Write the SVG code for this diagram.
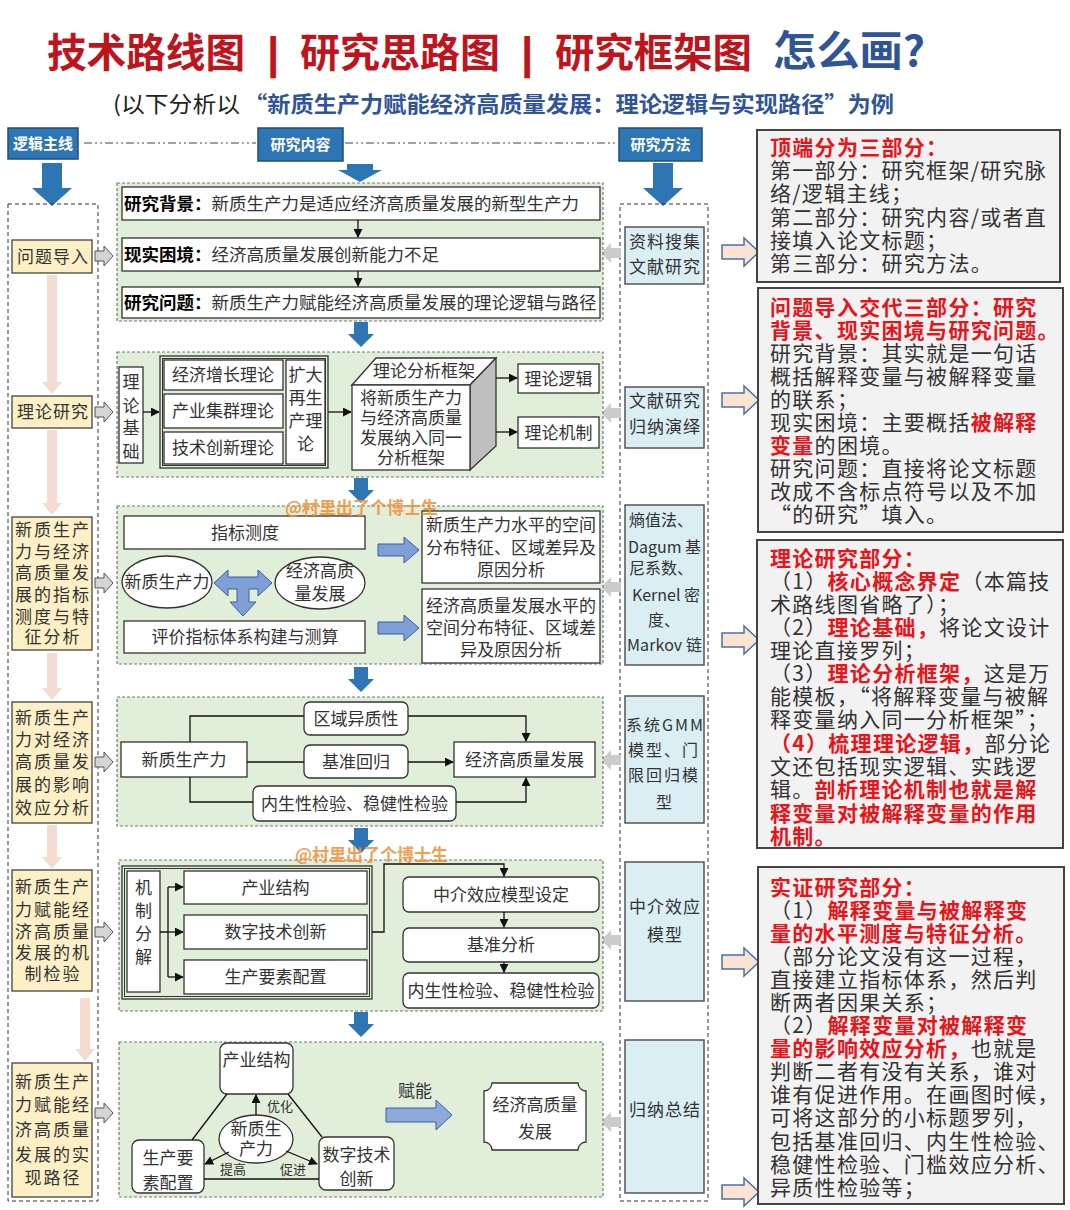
<svg xmlns="http://www.w3.org/2000/svg" width="1070" height="1210" viewBox="0 0 1070 1210">
<defs>
<style>
text{font-family:"Noto Sans CJK SC","Noto Sans",sans-serif;}
.t{font-size:17px;fill:#333;text-anchor:middle;}
.tl{font-size:17.5px;fill:#333;}
.lb{fill:#fdf0c6;stroke:#444;stroke-width:1.3;}
.lt{font-size:17px;fill:#333;text-anchor:middle;letter-spacing:2px;}
.pn{fill:#e1eed9;stroke:#777;stroke-width:1.2;stroke-dasharray:3 2;}
.wb{fill:#fff;stroke:#333;stroke-width:1.3;}
.mb{fill:#daeef3;stroke:#555;stroke-width:1.5;}
.mt{font-size:17px;fill:#333;text-anchor:middle;letter-spacing:1px;}
.ms{font-size:16px;fill:#333;}
.nb{fill:#f2f2f2;stroke:#444;stroke-width:2;}
.nt{font-size:21px;fill:#333;letter-spacing:1.3px;}
.r{fill:#e8141a;font-weight:bold;}
.hb{fill:#2e75b6;stroke:#1f4e79;stroke-width:1.5;}
.ht{font-size:15px;font-weight:bold;fill:#fff;text-anchor:middle;}
.ba{fill:#2e75b6;}
.pa{fill:#f4ddd0;}
.ga{fill:#d4d4d4;stroke:#555;stroke-width:1;}
.gl{fill:#cbcbcb;}
.oa{fill:#fbe3d3;stroke:#4a6fb5;stroke-width:1.5;}
.la{fill:#7f9fd6;stroke:#3a5ea8;stroke-width:1;}
.cn{fill:none;stroke:#111;stroke-width:1.3;}
.ca{fill:none;stroke:#111;stroke-width:1.3;marker-end:url(#ah);}
.col{fill:none;stroke:#333;stroke-width:1;stroke-dasharray:4 3;}
.dd{fill:none;stroke:#444;stroke-width:1.2;stroke-dasharray:8 3 2 3 2 3;}
.wm{font-size:17px;font-weight:bold;fill:#f39237;fill-opacity:0.9;}
.sm{font-size:13px;fill:#333;text-anchor:middle;}
</style>
<marker id="ah" viewBox="0 0 10 10" refX="9" refY="5" markerWidth="9" markerHeight="9" markerUnits="userSpaceOnUse" orient="auto"><path d="M0,0 L10,5 L0,10 Z" fill="#111"/></marker>
</defs>
<rect x="0" y="0" width="1070" height="1210" fill="#ffffff"/>

<g id="title">
<text x="47" y="67" font-size="40" font-weight="bold" fill="#c0141c" textLength="198" lengthAdjust="spacingAndGlyphs">技术路线图</text>
<text x="267" y="68" font-size="44" font-weight="bold" fill="#c0141c" style="font-family:'Liberation Sans',sans-serif">|</text>
<text x="300" y="67" font-size="40" font-weight="bold" fill="#c0141c" textLength="200" lengthAdjust="spacingAndGlyphs">研究思路图</text>
<text x="521" y="68" font-size="44" font-weight="bold" fill="#c0141c" style="font-family:'Liberation Sans',sans-serif">|</text>
<text x="555" y="67" font-size="40" font-weight="bold" fill="#c0141c" textLength="197" lengthAdjust="spacingAndGlyphs">研究框架图</text>
<text x="773" y="66" font-size="42" font-weight="bold" fill="#2f5597" textLength="152" lengthAdjust="spacingAndGlyphs">怎么画?</text>
<text x="113" y="112" font-size="22" fill="#222" textLength="127" lengthAdjust="spacingAndGlyphs">(以下分析以</text>
<text x="244" y="112" font-size="22" font-weight="bold" fill="#2f5597" textLength="650" lengthAdjust="spacingAndGlyphs">“新质生产力赋能经济高质量发展：理论逻辑与实现路径”为例</text>
</g>

<g id="headers">
<rect class="hb" x="8" y="128" width="70" height="31"/><text class="ht" x="43" y="149">逻辑主线</text>
<rect class="hb" x="258" y="128" width="85" height="33"/><text class="ht" x="300.5" y="150">研究内容</text>
<rect class="hb" x="619" y="128" width="83" height="33"/><text class="ht" x="660.5" y="150">研究方法</text>
<path class="dd" d="M84,143 H256 M345,143 H618"/>
<path class="ba" d="M42,163 H62 V188 H72 L52,206 L32,188 H42 Z"/>
<path class="ba" d="M653,163 H673 V188 H683 L663,206 L643,188 H653 Z"/>
<path class="ba" d="M347,164 H373 V170 H382 L360,182 L338,170 H347 Z"/>
</g>

<g id="columns">
<rect class="col" x="8" y="204" width="90" height="997"/>
<rect class="col" x="620" y="204" width="88" height="997"/>
</g>

<g id="logic-arrows">
<path class="pa" d="M47,275 H57 V382 H62 L52,394 L42,382 H47 Z"/>
<path class="pa" d="M47,430 H57 V503 H62 L52,515 L42,503 H47 Z"/>
<path class="pa" d="M47,653 H57 V688 H62 L52,700 L42,688 H47 Z"/>
<path class="pa" d="M47,825 H57 V857 H62 L52,869 L42,857 H47 Z"/>
<path class="pa" d="M80,998 H90 V1049 H95 L85,1061 L75,1049 H80 Z"/>
</g>

<g id="logic-1"><rect class="lb" x="12" y="240" width="80" height="33"/><text class="lt" x="53" y="262.5" style="letter-spacing:1px">问题导入</text></g>
<g id="logic-2"><rect class="lb" x="12" y="396" width="80" height="32"/><text class="lt" x="53" y="418" style="letter-spacing:1px">理论研究</text></g>
<g id="logic-3"><rect class="lb" x="12" y="517" width="80" height="133"/>
<text class="lt" x="53" y="536">新质生产</text><text class="lt" x="53" y="558">力与经济</text><text class="lt" x="53" y="579">高质量发</text><text class="lt" x="53" y="601">展的指标</text><text class="lt" x="53" y="623">测度与特</text><text class="lt" x="53" y="643">征分析</text></g>
<g id="logic-4"><rect class="lb" x="12" y="702" width="80" height="121"/>
<text class="lt" x="53" y="724">新质生产</text><text class="lt" x="53" y="746">力对经济</text><text class="lt" x="53" y="768">高质量发</text><text class="lt" x="53" y="791">展的影响</text><text class="lt" x="53" y="814">效应分析</text></g>
<g id="logic-5"><rect class="lb" x="12" y="870" width="80" height="121"/>
<text class="lt" x="53" y="893">新质生产</text><text class="lt" x="53" y="916">力赋能经</text><text class="lt" x="53" y="938">济高质量</text><text class="lt" x="53" y="959">发展的机</text><text class="lt" x="53" y="980">制检验</text></g>
<g id="logic-6"><rect class="lb" x="12" y="1063" width="80" height="134"/>
<text class="lt" x="53" y="1088">新质生产</text><text class="lt" x="53" y="1111">力赋能经</text><text class="lt" x="53" y="1136">济高质量</text><text class="lt" x="53" y="1161">发展的实</text><text class="lt" x="53" y="1184">现路径</text></g>

<g id="side-arrows">
<path class="ga" d="M95,251 H104 V246 L113,256 L104,266 V261 H95 Z"/>
<path class="ga" d="M95,407 H104 V402 L113,412 L104,422 V417 H95 Z"/>
<path class="ga" d="M95,578 H104 V573 L113,583 L104,593 V588 H95 Z"/>
<path class="ga" d="M95,757 H104 V752 L113,762 L104,772 V767 H95 Z"/>
<path class="ga" d="M95,927 H104 V922 L113,932 L104,942 V937 H95 Z"/>
<path class="ga" d="M95,1108 H104 V1103 L113,1113 L104,1123 V1118 H95 Z"/>
<path class="gl" d="M621,248 H611 V243 L601,253 L611,263 V258 H621 Z"/>
<path class="gl" d="M621,408 H611 V403 L601,413 L611,423 V418 H621 Z"/>
<path class="gl" d="M621,582 H611 V577 L601,587 L611,597 V592 H621 Z"/>
<path class="gl" d="M621,755 H611 V750 L601,760 L611,770 V765 H621 Z"/>
<path class="gl" d="M621,935 H611 V930 L601,940 L611,950 V945 H621 Z"/>
<path class="gl" d="M621,1117 H611 V1112 L601,1122 L611,1132 V1127 H621 Z"/>
<path class="oa" d="M722,245 H744 V238 L759,252 L744,266 V259 H722 Z"/>
<path class="oa" d="M722,393 H744 V386 L759,400 L744,414 V407 H722 Z"/>
<path class="oa" d="M722,633 H744 V626 L759,640 L744,654 V647 H722 Z"/>
<path class="oa" d="M722,955 H744 V948 L759,962 L744,976 V969 H722 Z"/>
<path class="oa" d="M722,1185 H744 V1178 L759,1192 L744,1206 V1199 H722 Z"/>
</g>

<g id="panel-arrows">
<path class="ba" d="M354,322 H368 V334 H374 L361,347 L348,334 H354 Z"/>
<path class="ba" d="M354,478 H368 V490 H374 L361,503 L348,490 H354 Z"/>
<path class="ba" d="M354,667 H368 V679 H374 L361,692 L348,679 H354 Z"/>
<path class="ba" d="M354,828 H368 V840 H374 L361,853 L348,840 H354 Z"/>
<path class="ba" d="M354,1012 H368 V1024 H374 L361,1037 L348,1024 H354 Z"/>
</g>

<g id="panel-1">
<rect class="pn" x="117" y="183" width="486" height="138"/>
<rect class="wb" x="122" y="187" width="478" height="33"/>
<text class="tl" x="124" y="209.5"><tspan font-weight="bold" fill="#000">研究背景：</tspan>新质生产力是适应经济高质量发展的新型生产力</text>
<rect class="wb" x="122" y="238" width="478" height="33"/>
<text class="tl" x="124" y="260.5"><tspan font-weight="bold" fill="#000">现实困境：</tspan>经济高质量发展创新能力不足</text>
<rect class="wb" x="122" y="287" width="478" height="31"/>
<text class="tl" x="124" y="308.5"><tspan font-weight="bold" fill="#000">研究问题：</tspan>新质生产力赋能经济高质量发展的理论逻辑与路径</text>
</g>

<g id="panel-2">
<rect class="pn" x="117" y="352" width="486" height="125"/>
<rect class="wb" x="119" y="367" width="24" height="96"/>
<text class="t" x="131" y="388">理</text><text class="t" x="131" y="412">论</text><text class="t" x="131" y="434">基</text><text class="t" x="131" y="458">础</text>
<rect x="160" y="356" width="168" height="112" fill="none" stroke="#333" stroke-width="1.3"/>
<rect x="162.5" y="358.5" width="163" height="107" fill="none" stroke="#333" stroke-width="1"/>
<rect class="wb" x="164" y="360" width="119" height="30"/><text class="t" x="223" y="381">经济增长理论</text>
<rect class="wb" x="164" y="394" width="119" height="34"/><text class="t" x="223" y="417">产业集群理论</text>
<rect class="wb" x="164" y="432" width="119" height="32"/><text class="t" x="223" y="454">技术创新理论</text>
<rect class="wb" x="286" y="360" width="39" height="104"/>
<text class="t" x="305.5" y="381">扩大</text><text class="t" x="305.5" y="404">再生</text><text class="t" x="305.5" y="427">产理</text><text class="t" x="305.5" y="450">论</text>
<polygon points="352,385 376,358 496,358 470,385" fill="#fff" stroke="#333" stroke-width="1.3"/>
<polygon points="470,385 496,358 496,446 470,470" fill="#bfbfbf" stroke="#333" stroke-width="1.3"/>
<rect x="352" y="385" width="118" height="85" fill="#fff" stroke="#333" stroke-width="1.3"/>
<text class="t" x="424" y="377">理论分析框架</text>
<text class="t" x="411" y="404" font-size="16.5">将新质生产力</text>
<text class="t" x="411" y="424" font-size="16.5">与经济高质量</text>
<text class="t" x="411" y="444" font-size="16.5">发展纳入同一</text>
<text class="t" x="411" y="464" font-size="16.5">分析框架</text>
<rect class="wb" x="518" y="364" width="81" height="29"/><text class="t" x="558.5" y="384.5">理论逻辑</text>
<rect class="wb" x="518" y="417" width="81" height="31"/><text class="t" x="558.5" y="438.5">理论机制</text>
</g>

<g id="panel-3">
<rect class="pn" x="117" y="506" width="486" height="158"/>
<rect class="wb" x="124" y="516" width="241" height="33"/><text class="t" x="245" y="538.5">指标测度</text>
<ellipse cx="167" cy="582" rx="45" ry="26" fill="#fff" stroke="#333" stroke-width="1.3"/>
<text class="t" x="167" y="588" font-size="16">新质生产力</text>
<ellipse cx="320" cy="583" rx="45" ry="26" fill="#fff" stroke="#333" stroke-width="1.3"/>
<text class="t" x="320" y="577" font-size="16">经济高质</text><text class="t" x="320" y="600" font-size="16">量发展</text>
<path class="la" d="M214,583 L228,570 V577 H258 V570 L272,583 L258,596 V589 H249 V602 H256 L243,616 L230,602 H237 V589 H228 V596 Z"/>
<rect class="wb" x="124" y="621" width="241" height="32"/><text class="t" x="245" y="643">评价指标体系构建与测算</text>
<path class="la" d="M378,544 H404 V537 L419,550 L404,563 V556 H378 Z"/>
<path class="la" d="M378,622 H404 V615 L419,628 L404,641 V634 H378 Z"/>
<rect class="wb" x="422" y="511" width="178" height="72"/>
<text class="t" x="511" y="531">新质生产力水平的空间</text><text class="t" x="511" y="554">分布特征、区域差异及</text><text class="t" x="511" y="576">原因分析</text>
<rect class="wb" x="422" y="589" width="178" height="74"/>
<text class="t" x="511" y="612">经济高质量发展水平的</text><text class="t" x="511" y="634">空间分布特征、区域差</text><text class="t" x="511" y="656">异及原因分析</text>
</g>

<g id="panel-4">
<rect class="pn" x="117" y="697" width="486" height="129"/>
<rect class="wb" x="121" y="742" width="126" height="35"/><text class="t" x="184" y="765.5">新质生产力</text>
<rect class="wb" x="304" y="702" width="104" height="33" rx="6"/><text class="t" x="356" y="724.5">区域异质性</text>
<rect class="wb" x="304" y="745" width="104" height="33" rx="6"/><text class="t" x="356" y="767.5">基准回归</text>
<rect class="wb" x="253" y="786" width="203" height="35" rx="6"/><text class="t" x="354.5" y="809.5">内生性检验、稳健性检验</text>
<rect class="wb" x="454" y="742" width="141" height="35"/><text class="t" x="524.5" y="765.5">经济高质量发展</text>
</g>

<g id="panel-5">
<rect class="pn" x="119" y="860" width="484" height="151"/>
<rect x="122" y="866" width="250" height="133" fill="none" stroke="#333" stroke-width="1.3"/>
<rect x="124.5" y="868.5" width="245" height="128" fill="none" stroke="#333" stroke-width="1"/>
<rect class="wb" x="127" y="871" width="33" height="121"/>
<text class="t" x="143.5" y="894">机</text><text class="t" x="143.5" y="917">制</text><text class="t" x="143.5" y="940">分</text><text class="t" x="143.5" y="963">解</text>
<rect class="wb" x="184" y="871" width="183" height="33"/><text class="t" x="275.5" y="893.5">产业结构</text>
<rect class="wb" x="184" y="915" width="183" height="34"/><text class="t" x="275.5" y="938">数字技术创新</text>
<rect class="wb" x="184" y="960" width="183" height="34"/><text class="t" x="275.5" y="983">生产要素配置</text>
<rect class="wb" x="403" y="877" width="196" height="35" rx="6"/><text class="t" x="501" y="900.5">中介效应模型设定</text>
<rect class="wb" x="403" y="928" width="196" height="34" rx="6"/><text class="t" x="501" y="951">基准分析</text>
<rect class="wb" x="403" y="973" width="196" height="35" rx="6"/><text class="t" x="501" y="996.5">内生性检验、稳健性检验</text>
</g>

<g id="panel-6">
<rect class="pn" x="119" y="1042" width="484" height="155"/>
<rect class="wb" x="220" y="1043" width="73" height="51" rx="7"/><text class="t" x="256.5" y="1066">产业结构</text>
<rect class="wb" x="132" y="1140" width="72" height="53" rx="7"/><text class="t" x="168" y="1164">生产要</text><text class="t" x="168" y="1189">素配置</text>
<rect class="wb" x="319" y="1137" width="75" height="53" rx="7"/><text class="t" x="356.5" y="1161">数字技术</text><text class="t" x="356.5" y="1185">创新</text>
<ellipse cx="256" cy="1139" rx="37" ry="24" fill="#fff" stroke="#333" stroke-width="1.3"/>
<text class="t" x="256" y="1135" font-size="16">新质生</text><text class="t" x="256" y="1155" font-size="16">产力</text>
<text class="sm" x="280" y="1111">优化</text><text class="sm" x="233" y="1174">提高</text><text class="sm" x="293" y="1174">促进</text>
<text class="t" x="415" y="1097" font-size="16">赋能</text>
<path class="la" d="M386,1108 H436 V1100 L452,1115 L436,1130 V1122 H386 Z" style="fill:#8eaadb"/>
<path d="M492,1083 H578 A8,8 0 0 0 586,1091 V1142 A8,8 0 0 0 578,1150 H492 A8,8 0 0 0 484,1142 V1091 A8,8 0 0 0 492,1083 Z" fill="#fff" stroke="#333" stroke-width="1.3"/>
<text class="t" x="535" y="1111">经济高质量</text><text class="t" x="535" y="1138">发展</text>
</g>

<g id="connectors">
<path class="ca" d="M358,220 V237"/>
<path class="ca" d="M358,271 V286"/>
<path class="ca" d="M143,412 H159"/>
<path class="ca" d="M328,412 H351"/>
<path class="ca" d="M496,378 H517"/>
<path class="ca" d="M496,432 H517"/>
<path class="cn" d="M190,742 V716 H304"/>
<path class="ca" d="M408,716 H526 V741"/>
<path class="cn" d="M247,762 H304"/>
<path class="ca" d="M408,762 H453"/>
<path class="cn" d="M190,777 V802 H253"/>
<path class="ca" d="M456,802 H526 V778"/>
<path class="cn" d="M160,932 H168 M168,887 V977"/>
<path class="ca" d="M168,887 H183"/>
<path class="ca" d="M168,932 H183"/>
<path class="ca" d="M168,977 H183"/>
<path class="ca" d="M372,932 H384 V864 H504 V876"/>
<path class="ca" d="M504,912 V927"/>
<path class="ca" d="M504,962 V972"/>
<path class="cn" d="M227,1094 L192,1140 M288,1094 L322,1137 M204,1179 H319"/>
<path class="ca" d="M256,1115 V1095"/>
<path class="ca" d="M229,1152 L205,1164"/>
<path class="ca" d="M286,1151 L317,1164"/>
</g>

<g id="methods">
<rect class="mb" x="625" y="227" width="79" height="57"/>
<text class="mt" x="665" y="248">资料搜集</text><text class="mt" x="665" y="273">文献研究</text>
<rect class="mb" x="625" y="387" width="79" height="61"/>
<text class="mt" x="665" y="407">文献研究</text><text class="mt" x="665" y="433">归纳演绎</text>
<rect class="mb" x="625" y="505" width="79" height="160"/>
<text class="ms" x="629" y="526">熵值法、</text>
<text class="ms" x="628" y="553" textLength="73" lengthAdjust="spacing">Dagum 基</text>
<text class="ms" x="629" y="574">尼系数、</text>
<text class="ms" x="632" y="601">Kernel 密</text>
<text class="ms" x="664" y="626" text-anchor="middle">度、</text>
<text class="ms" x="627" y="651" textLength="75" lengthAdjust="spacing">Markov 链</text>
<rect class="mb" x="625" y="696" width="79" height="127"/>
<text class="ms" x="626" y="731" textLength="77" lengthAdjust="spacing">系统GMM</text>
<text class="ms" x="664" y="756" text-anchor="middle" letter-spacing="2">模型、门</text>
<text class="ms" x="664" y="781" text-anchor="middle" letter-spacing="2">限回归模</text>
<text class="ms" x="664" y="808" text-anchor="middle">型</text>
<rect class="mb" x="625" y="862" width="79" height="139"/>
<text class="mt" x="665" y="913">中介效应</text><text class="mt" x="665" y="941">模型</text>
<rect class="mb" x="625" y="1040" width="79" height="153"/>
<text class="mt" x="665" y="1116">归纳总结</text>
</g>

<g id="note-1">
<rect class="nb" x="757" y="130" width="303" height="152"/>
<text class="nt" x="770" y="155"><tspan class="r">顶端分为三部分：</tspan></text>
<text class="nt" x="770" y="178">第一部分：研究框架/研究脉</text>
<text class="nt" x="770" y="201">络/逻辑主线；</text>
<text class="nt" x="770" y="225">第二部分：研究内容/或者直</text>
<text class="nt" x="770" y="248">接填入论文标题；</text>
<text class="nt" x="770" y="271">第三部分：研究方法。</text>
</g>

<g id="note-2">
<rect class="nb" x="758" y="288" width="305" height="244"/>
<text class="nt" x="770" y="314.5"><tspan class="r">问题导入交代三部分：研究</tspan></text>
<text class="nt" x="770" y="337.5"><tspan class="r">背景、现实困境与研究问题。</tspan></text>
<text class="nt" x="770" y="360.5">研究背景：其实就是一句话</text>
<text class="nt" x="770" y="383.5">概括解释变量与被解释变量</text>
<text class="nt" x="770" y="406.5">的联系；</text>
<text class="nt" x="770" y="429.5">现实困境：主要概括<tspan class="r">被解释</tspan></text>
<text class="nt" x="770" y="452.5"><tspan class="r">变量</tspan>的困境。</text>
<text class="nt" x="770" y="475.5">研究问题：直接将论文标题</text>
<text class="nt" x="770" y="498.5">改成不含标点符号以及不加</text>
<text class="nt" x="770" y="521.5">“的研究”填入。</text>
</g>

<g id="note-3">
<rect class="nb" x="757" y="540" width="306" height="308"/>
<text class="nt" x="770" y="565.5"><tspan class="r">理论研究部分：</tspan></text>
<text class="nt" x="770" y="588.5">（1）<tspan class="r">核心概念界定</tspan>（本篇技</text>
<text class="nt" x="770" y="611.5">术路线图省略了）；</text>
<text class="nt" x="770" y="634.5">（2）<tspan class="r">理论基础，</tspan>将论文设计</text>
<text class="nt" x="770" y="657.5">理论直接罗列；</text>
<text class="nt" x="770" y="680.5">（3）<tspan class="r">理论分析框架，</tspan>这是万</text>
<text class="nt" x="770" y="703.5">能模板，“将解释变量与被解</text>
<text class="nt" x="770" y="726.5">释变量纳入同一分析框架”；</text>
<text class="nt" x="770" y="750.5"><tspan class="r">（4）梳理理论逻辑，</tspan>部分论</text>
<text class="nt" x="770" y="773.5">文还包括现实逻辑、实践逻</text>
<text class="nt" x="770" y="796.5">辑。<tspan class="r">剖析理论机制也就是解</tspan></text>
<text class="nt" x="770" y="820.5"><tspan class="r">释变量对被解释变量的作用</tspan></text>
<text class="nt" x="770" y="843.5"><tspan class="r">机制。</tspan></text>
</g>

<g id="note-4">
<rect class="nb" x="758" y="867" width="306" height="337"/>
<text class="nt" x="770" y="894.5"><tspan class="r">实证研究部分：</tspan></text>
<text class="nt" x="770" y="917.5">（1）<tspan class="r">解释变量与被解释变</tspan></text>
<text class="nt" x="770" y="940.5"><tspan class="r">量的水平测度与特征分析。</tspan></text>
<text class="nt" x="770" y="963.5">（部分论文没有这一过程，</text>
<text class="nt" x="770" y="986.5">直接建立指标体系，然后判</text>
<text class="nt" x="770" y="1009.5">断两者因果关系；</text>
<text class="nt" x="770" y="1032.5">（2）<tspan class="r">解释变量对被解释变</tspan></text>
<text class="nt" x="770" y="1055.5"><tspan class="r">量的影响效应分析，</tspan>也就是</text>
<text class="nt" x="770" y="1078.5">判断二者有没有关系，谁对</text>
<text class="nt" x="770" y="1101.5">谁有促进作用。在画图时候，</text>
<text class="nt" x="770" y="1124.5">可将这部分的小标题罗列，</text>
<text class="nt" x="770" y="1148.5">包括基准回归、内生性检验、</text>
<text class="nt" x="770" y="1171.5">稳健性检验、门槛效应分析、</text>
<text class="nt" x="770" y="1194.5">异质性检验等；</text>
</g>

<g id="watermarks">
<text class="wm" x="285" y="514">@村里出了个博士生</text>
<text class="wm" x="295" y="861">@村里出了个博士生</text>
</g>
</svg>
